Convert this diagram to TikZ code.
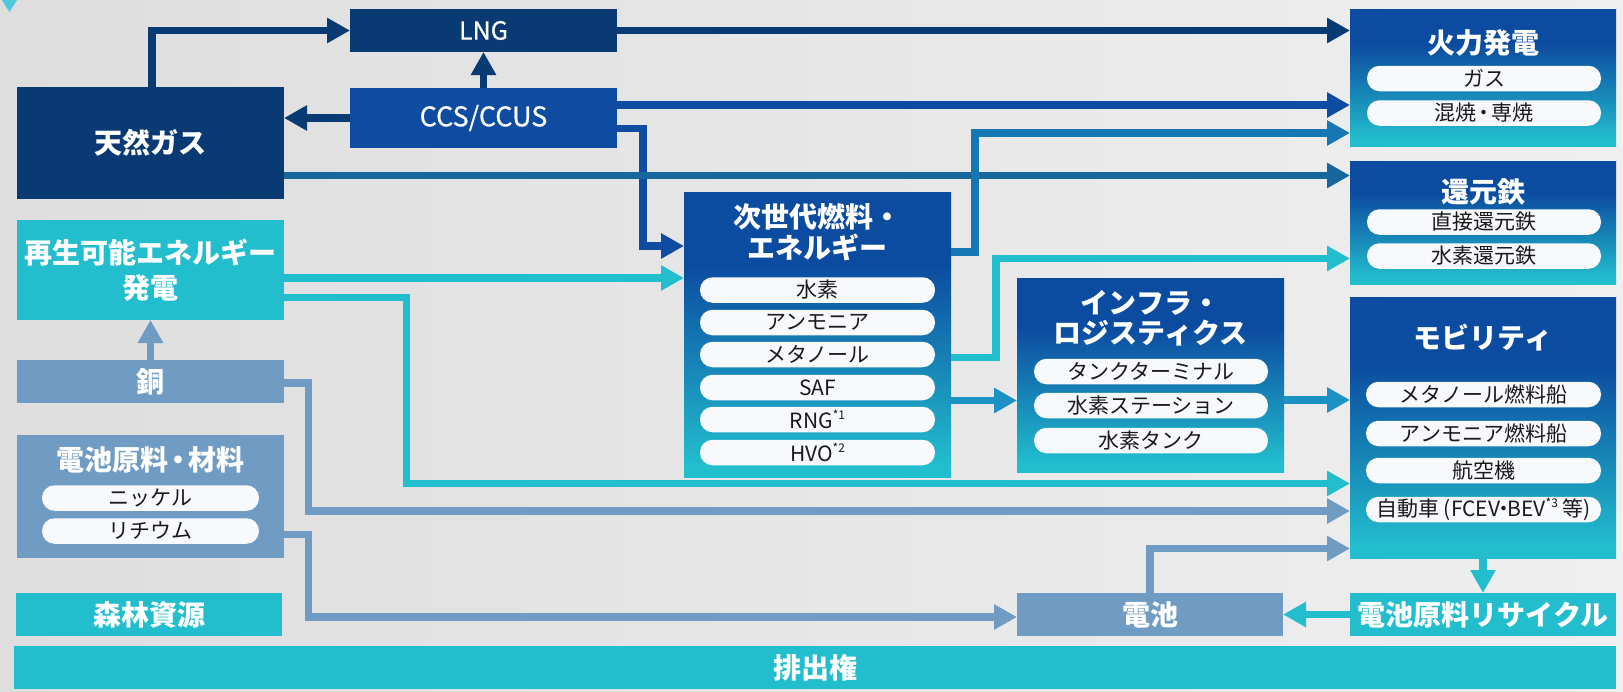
\documentclass[tikz,border=0pt]{standalone}
\usepackage{fontspec}
\setmainfont{Noto Sans CJK JP}
\newfontfamily\medfont{Noto Sans CJK JP}[UprightFeatures={FakeBold=0.6}]
\usetikzlibrary{arrows.meta}
\definecolor{navy}{HTML}{0A3A74}
\definecolor{ccsblue}{HTML}{0D4CA0}
\definecolor{gblue}{HTML}{0C4CA0}
\definecolor{cyanc}{HTML}{22BECE}
\definecolor{steel}{HTML}{709CC4}
\definecolor{pillc}{HTML}{F7F9FC}
\definecolor{txtc}{HTML}{1A1A1A}
\definecolor{bgl}{HTML}{DEDEDE}
\definecolor{bgr}{HTML}{EFEFEF}
\definecolor{tealnavy}{HTML}{17679C}
\definecolor{midblue}{HTML}{1577B4}
\definecolor{tealc}{HTML}{1C92C4}
\definecolor{tric}{HTML}{50C8DC}
\pgfdeclareverticalshading{bgrad}{100bp}{color(0bp)=(cyanc); color(27bp)=(cyanc); color(62bp)=(gblue); color(100bp)=(gblue)}
\newcommand\mysup[1]{\raisebox{0.42em}{\fontsize{12}{12}\selectfont #1}}
\newcommand\jdot{\kern-0.15em・\kern-0.15em}
\newcommand\ndot{\kern-0.33em・\kern-0.33em}
\begin{document}
\begin{tikzpicture}[x=1pt,y=-1pt,
  box/.style={inner sep=0pt, outer sep=0pt, text=white, font=\fontsize{28}{35}\selectfont\bfseries, align=center},
  navybox/.style={box, fill=navy},
  ccsbox/.style={box, fill=ccsblue},
  cyanbox/.style={box, fill=cyanc},
  steelbox/.style={box, fill=steel},
  gbox/.style={box, shade, shading=bgrad},
  pill/.style={fill=pillc, rounded corners=12.5pt, minimum height=25.5pt, inner sep=0pt, outer sep=0pt, text=txtc, font=\fontsize{21}{21}\selectfont},
  ttl/.style={text=white, font=\fontsize{28}{31}\selectfont\bfseries, inner sep=0pt, align=center},
  con/.style={line width=7.5pt, -{Triangle[length=23pt,width=24pt]}},
]
\useasboundingbox (0,0) rectangle (1623,691);
\fill[left color=bgl, right color=bgr] (0,0) rectangle (1623,691);
\fill[tric] (2,0) -- (17,0) -- (9.5,12) -- cycle;

% left column
\node[navybox, minimum width=267pt, minimum height=112pt] (gas) at (150.5,143) {天然ガス};
\node[cyanbox, minimum width=267pt, minimum height=100pt] (renew) at (150.5,270) {再生可能エネルギー\\発電};
\node[steelbox, minimum width=267pt, minimum height=43pt] (copper) at (150.5,381.5) {銅};
\node[steelbox, minimum width=267pt, minimum height=123pt] (batmat) at (150.5,496.5) {};
\node[ttl] (batmatT) at (150.5,460) {電池原料\jdot 材料};
\node[pill, minimum width=217pt] (nickel) at (150.5,498) {ニッケル};
\node[pill, minimum width=217pt] (lithium) at (150.5,531) {リチウム};
\node[cyanbox, minimum width=266pt, minimum height=43pt] (forest) at (149,614.5) {森林資源};
\node[cyanbox, minimum width=1602pt, minimum height=43pt] (emission) at (815,667.5) {排出権};

% middle
\node[navybox, minimum width=267pt, minimum height=43pt, font=\fontsize{25}{25}\medfont] (lng) at (483.5,30.5) {LNG};
\node[ccsbox, minimum width=267pt, minimum height=60pt, font=\fontsize{27}{27}\medfont] (ccs) at (483.5,118) {CCS/CCUS};
\node[gbox, minimum width=267pt, minimum height=285pt] (nextgen) at (817.5,334.5) {};
\node[ttl] (nextgenT) at (817.5,232.5) {次世代燃料・\\エネルギー};
\node[pill, minimum width=235pt] (h2) at (817.5,290) {水素};
\node[pill, minimum width=235pt] (nh3) at (817.5,322.5) {アンモニア};
\node[pill, minimum width=235pt] (meoh) at (817.5,354.5) {メタノール};
\node[pill, minimum width=235pt] (saf) at (817.5,387.5) {SAF};
\node[pill, minimum width=235pt] (rng) at (817.5,419.5) {RNG\mysup{*1}};
\node[pill, minimum width=235pt] (hvo) at (817.5,452.5) {HVO\mysup{*2}};

\node[gbox, minimum width=267pt, minimum height=194pt] (infra) at (1150.5,375) {};
\node[ttl, font=\fontsize{28}{30}\selectfont\bfseries] (infraT) at (1150.5,318) {インフラ・\\ロジスティクス};
\node[pill, minimum width=234pt] (tank) at (1151,371.5) {タンクターミナル};
\node[pill, minimum width=234pt] (station) at (1151,405.5) {水素ステーション};
\node[pill, minimum width=234pt] (h2tank) at (1151,440.5) {水素タンク};
\node[steelbox, minimum width=266pt, minimum height=43pt] (battery) at (1150,614.5) {電池};

% right column
\node[gbox, minimum width=266pt, minimum height=137pt] (thermal) at (1483,77.5) {};
\node[ttl] (thermalT) at (1483,43) {火力発電};
\node[pill, minimum width=234pt] (gasp) at (1484,78.5) {ガス};
\node[pill, minimum width=234pt] (cofire) at (1484,113) {混焼\jdot 専焼};
\node[gbox, minimum width=266pt, minimum height=123pt] (iron) at (1483,222.5) {};
\node[ttl] (ironT) at (1483,192) {還元鉄};
\node[pill, minimum width=234pt] (dri) at (1484,222) {直接還元鉄};
\node[pill, minimum width=234pt] (hdri) at (1484,256) {水素還元鉄};
\node[gbox, minimum width=266pt, minimum height=261pt] (mobility) at (1483,427.5) {};
\node[ttl] (mobT) at (1483,338) {モビリティ};
\node[pill, minimum width=235pt] (ship1) at (1483.5,394.5) {メタノール燃料船};
\node[pill, minimum width=235pt] (ship2) at (1483.5,433.5) {アンモニア燃料船};
\node[pill, minimum width=235pt] (plane) at (1483.5,470.5) {航空機};
\node[pill, minimum width=235pt] (car) at (1483.5,509.5) {自動車 (FCEV\ndot BEV\mysup{*3} 等)};
\node[cyanbox, minimum width=266pt, minimum height=43pt] (recycle) at (1483,614.5) {電池原料リサイクル};

% connectors
\draw[con, navy] ([xshift=1.5pt]gas.north) |- (lng.west);
\draw[con, navy] (ccs.north) -- (lng.south);
\draw[con, navy] (ccs.west) -- (ccs.west -| gas.east);
\draw[con, navy] (lng.east) -- (lng.east -| thermal.west);
\draw[con, ccsblue] ([yshift=13pt]ccs.east) coordinate (c5) -- (c5 -| thermal.west);
\draw[con, ccsblue] ([yshift=-10.5pt]ccs.east) -- ++(26,0) |- ([yshift=88.5pt]nextgen.west);
\draw[con, tealnavy] ([yshift=-32.5pt]gas.east) coordinate (g1) -- (g1 -| iron.west);
\draw[con, midblue] ([yshift=82.5pt]nextgen.east) -- ++(24,0) |- ([yshift=-55.5pt]thermal.west);
\draw[con, cyanc] ([yshift=-8pt]renew.east) coordinate (r1) -- (r1 -| nextgen.west);
\draw[con, cyanc] ([yshift=-23pt]nextgen.east) -- ++(45,0) |- ([yshift=-36pt]iron.west);
\draw[con, tealc] ([yshift=-66pt]nextgen.east) coordinate (n1) -- (n1 -| infra.west);
\draw[con, tealc] ([yshift=-25pt]infra.east) coordinate (i1) -- (i1 -| mobility.west);
\draw[con, cyanc] ([yshift=-27.5pt]renew.east) -- ++(122.5,0) |- ([yshift=-56pt]mobility.west);
\draw[con, steel] ([yshift=-1.5pt]copper.east) -- ++(24.5,0) |- ([yshift=-83.5pt]mobility.west);
\draw[con, steel] ([yshift=-38pt]batmat.east) -- ++(24.5,0) |- ([yshift=-2.5pt]battery.west);
\draw[con, steel] (copper.north) -- (renew.south);
\draw[con, steel] (battery.north) |- ([yshift=-121pt]mobility.west);
\draw[con, cyanc] (mobility.south) -- (recycle.north);
\draw[con, cyanc] (recycle.west) -- (battery.east);
\end{tikzpicture}
\end{document}
